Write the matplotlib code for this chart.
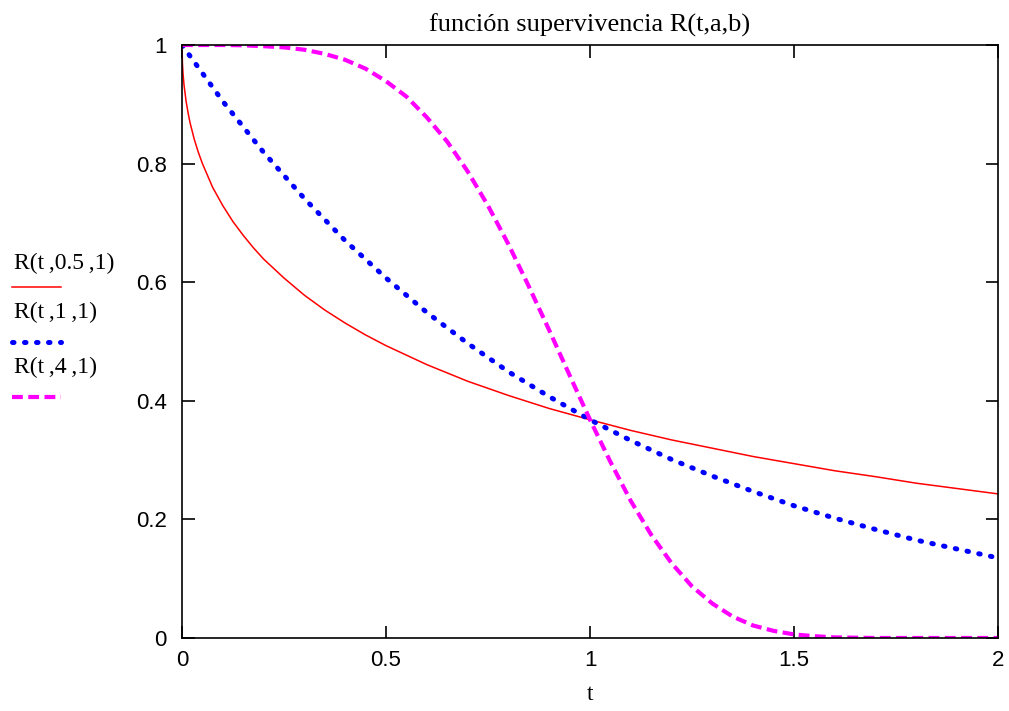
import matplotlib
matplotlib.use("Agg")
import matplotlib.pyplot as plt

# valores
t_red = [0, 0.001, 0.0025, 0.005, 0.01, 0.015, 0.02, 0.03, 0.04, 0.05, 0.075, 0.1, 0.125, 0.15, 0.175, 0.2,
         0.25, 0.3, 0.35, 0.4, 0.45, 0.5, 0.6, 0.7, 0.8, 0.9, 1.0, 1.1, 1.2, 1.3, 1.4, 1.5, 1.6, 1.7, 1.8,
         1.9, 2.0]
r_red = [1.0, 0.969, 0.951, 0.932, 0.905, 0.885, 0.868, 0.841, 0.819, 0.800, 0.760, 0.729, 0.702, 0.679,
         0.658, 0.639, 0.607, 0.578, 0.553, 0.531, 0.511, 0.493, 0.461, 0.433, 0.409, 0.387, 0.368, 0.350,
         0.334, 0.320, 0.306, 0.294, 0.282, 0.272, 0.261, 0.252, 0.243]

t_blue = [0, 0.1, 0.2, 0.3, 0.4, 0.5, 0.6, 0.7, 0.8, 0.9, 1.0, 1.1, 1.2, 1.3, 1.4, 1.5, 1.6, 1.7, 1.8, 1.9, 2.0]
r_blue = [1.0, 0.905, 0.819, 0.741, 0.670, 0.607, 0.549, 0.497, 0.449, 0.407, 0.368, 0.333, 0.301, 0.273,
          0.247, 0.223, 0.202, 0.183, 0.165, 0.150, 0.135]

t_mag = [0, 0.05, 0.1, 0.15, 0.2, 0.25, 0.3, 0.35, 0.4, 0.45, 0.5, 0.55, 0.6, 0.65, 0.7, 0.75, 0.8, 0.85,
         0.9, 0.95, 1.0, 1.05, 1.1, 1.15, 1.2, 1.25, 1.3, 1.35, 1.4, 1.45, 1.5, 1.55, 1.6, 1.7, 1.8, 1.9, 2.0]
r_mag = [1.0, 1.0, 1.0, 0.9995, 0.998, 0.996, 0.992, 0.985, 0.975, 0.960, 0.939, 0.913, 0.878, 0.837, 0.787,
         0.729, 0.664, 0.593, 0.519, 0.443, 0.368, 0.297, 0.231, 0.174, 0.126, 0.087, 0.058, 0.036, 0.021,
         0.012, 0.006, 0.003, 0.001, 0.0, 0.0, 0.0, 0.0]

labels = ["R(t\u2009,0.5\u2009,1)", "R(t\u2009,1\u2009,1)", "R(t\u2009,4\u2009,1)"]

red_style = dict(color="red", lw=1.1)
blue_style = dict(color="blue", lw=3.6, linestyle=(0, (0.3, 2.1)), dash_capstyle="round")
mag_style = dict(color="magenta", lw=3, linestyle=(0, (2.6, 1.3)))

fig = plt.figure(figsize=(10.09, 7.11), dpi=100)
ax = fig.add_axes([0.1804, 0.1027, 0.8087, 0.834])

ax.plot(t_red, r_red, **red_style)
ax.plot(t_blue, r_blue, **blue_style)
ax.plot(t_mag, r_mag, **mag_style)

ax.set_xlim(0, 2)
ax.set_ylim(0, 1)
ax.set_xticks([0, 0.5, 1, 1.5, 2])
ax.set_xticklabels(["0", "0.5", "1", "1.5", "2"])
ax.set_yticks([0, 0.2, 0.4, 0.6, 0.8, 1])
ax.set_yticklabels(["0", "0.2", "0.4", "0.6", "0.8", "1"])
ax.tick_params(direction="in", length=9, width=1.2, top=True, right=True,
               labelsize=16, colors="black")
ax.tick_params(axis="y", pad=11)
ax.tick_params(axis="x", pad=9)
for lab in ax.get_xticklabels() + ax.get_yticklabels():
    lab.set_family("Liberation Sans")
for s in ax.spines.values():
    s.set_linewidth(1.2)

ax.set_title("función supervivencia R(t,a,b)", family="Liberation Serif", fontsize=19, pad=10)
ax.set_xlabel("t", family="Liberation Serif", fontsize=17, labelpad=9)

# leyenda a la izquierda: etiqueta encima de la muestra de linea
y_text = [0.630, 0.560, 0.483]
y_line = [0.596, 0.519, 0.442]
for lab, yt, yl, st in zip(labels, y_text, y_line, [red_style, blue_style, mag_style]):
    fig.text(0.014, yt, lab, family=["Liberation Serif", "DejaVu Serif"], fontsize=17, va="center")
    fig.add_artist(plt.Line2D([0.012, 0.060], [yl, yl], transform=fig.transFigure, **st))

fig.savefig("out.png", dpi=100)
